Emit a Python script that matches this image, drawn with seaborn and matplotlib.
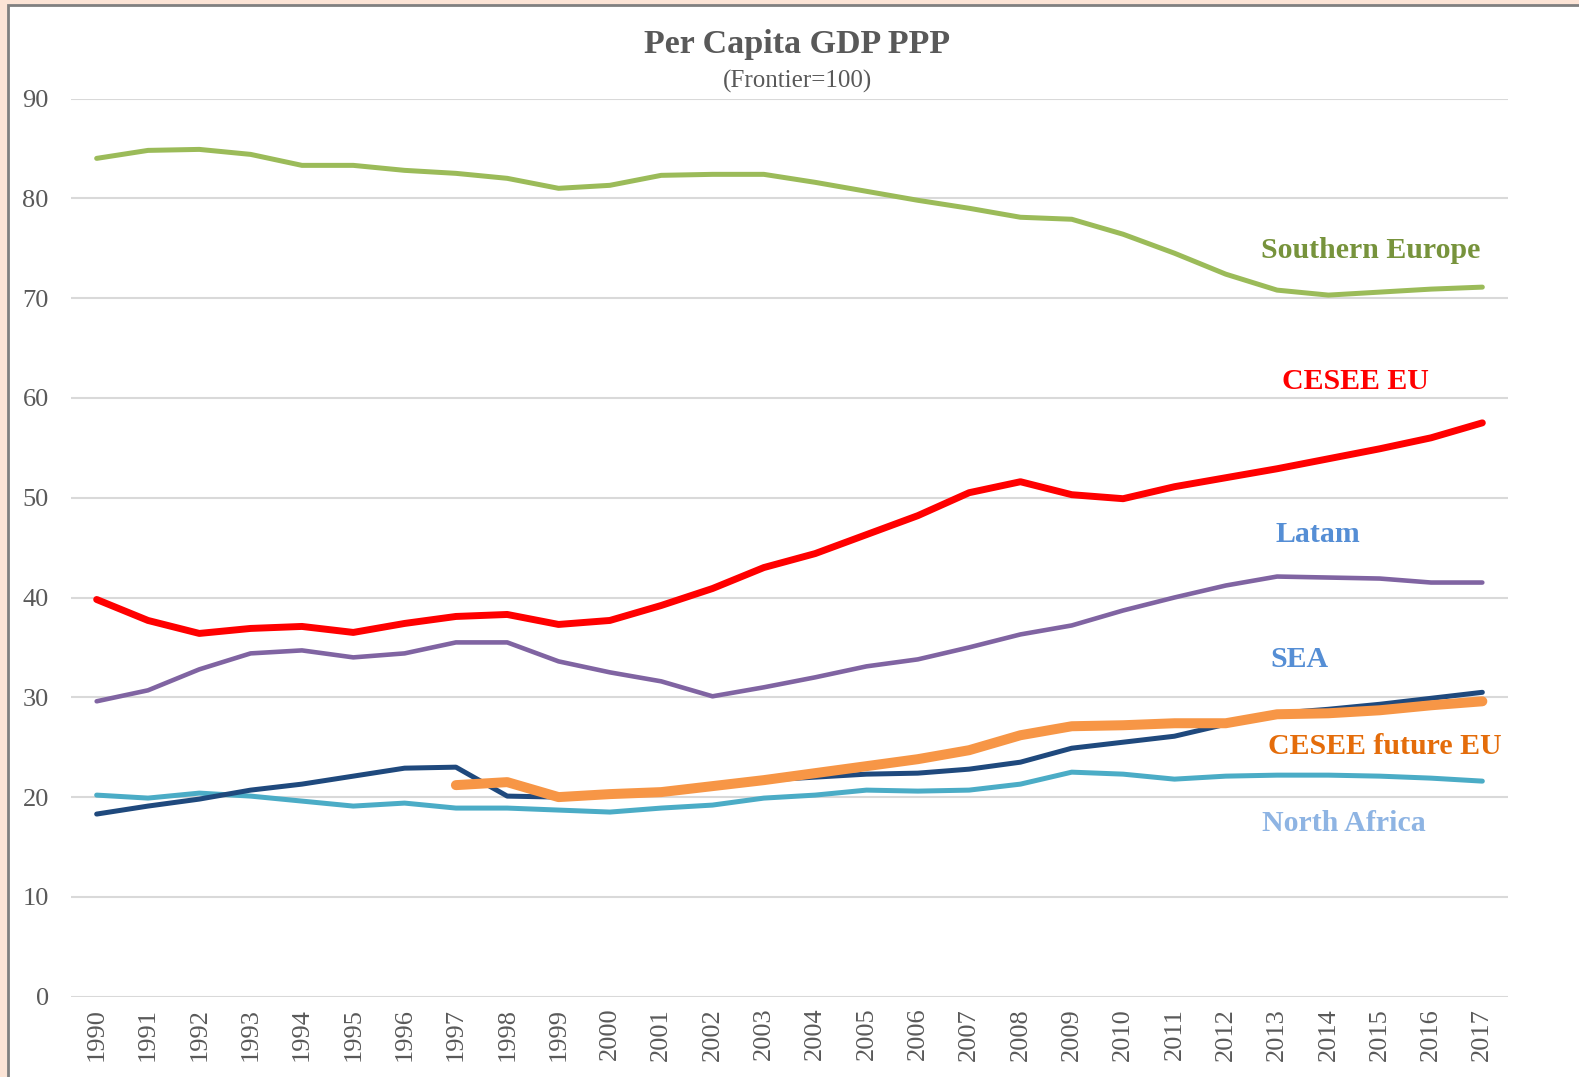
import numpy as np
import pandas as pd
import matplotlib.pyplot as plt
import seaborn as sns
from matplotlib.patches import Rectangle

# data
years = list(range(1990, 2018))
southern_europe = [84.0, 84.8, 84.9, 84.4, 83.3, 83.3, 82.8, 82.5, 82.0, 81.0, 81.3, 82.3, 82.4, 82.4,
                   81.6, 80.7, 79.8, 79.0, 78.1, 77.9, 76.4, 74.5, 72.4, 70.8, 70.3, 70.6, 70.9, 71.1]
cesee_eu = [39.8, 37.7, 36.4, 36.9, 37.1, 36.5, 37.4, 38.1, 38.3, 37.3, 37.7, 39.2, 40.9, 43.0,
            44.4, 46.3, 48.2, 50.5, 51.6, 50.3, 49.9, 51.1, 52.0, 52.9, 53.9, 54.9, 56.0, 57.5]
latam = [29.6, 30.7, 32.8, 34.4, 34.7, 34.0, 34.4, 35.5, 35.5, 33.6, 32.5, 31.6, 30.1, 31.0,
         32.0, 33.1, 33.8, 35.0, 36.3, 37.2, 38.7, 40.0, 41.2, 42.1, 42.0, 41.9, 41.5, 41.5]
sea = [18.3, 19.1, 19.8, 20.7, 21.3, 22.1, 22.9, 23.0, 20.1, 20.0, 20.2, 20.5, 21.0, 21.7,
       22.0, 22.3, 22.4, 22.8, 23.5, 24.9, 25.5, 26.1, 27.3, 28.4, 28.8, 29.3, 29.9, 30.5]
north_africa = [20.2, 19.9, 20.4, 20.1, 19.6, 19.1, 19.4, 18.9, 18.9, 18.7, 18.5, 18.9, 19.2, 19.9,
                20.2, 20.7, 20.6, 20.7, 21.3, 22.5, 22.3, 21.8, 22.1, 22.2, 22.2, 22.1, 21.9, 21.6]
cesee_future_eu = [np.nan] * 7 + [21.2, 21.5, 20.0, 20.3, 20.5, 21.1, 21.7, 22.4, 23.1, 23.8, 24.7,
                                  26.2, 27.1, 27.2, 27.4, 27.4, 28.3, 28.4, 28.7, 29.2, 29.6]

sns.set_theme(style="white")
plt.rcParams['font.family'] = ['Liberation Serif', 'DejaVu Serif']

fig = plt.figure(figsize=(15.79, 10.77), dpi=100)
fig.patch.set_facecolor("#FCE4D6")
# white chart area with grey frame (peach margin left and top only)
fig.patches.append(Rectangle((8 / 1579, -0.01), 1.05, 1.01 - 5 / 1077, transform=fig.transFigure,
                             facecolor="white", edgecolor="#808080", linewidth=2, zorder=-5))

ax = fig.add_axes([71 / 1579, 1 - 996.7 / 1077, 1437 / 1579, (996.7 - 98.5) / 1077])
ax.set_facecolor("none")

# series: (values, colour, width), drawn back to front
series = [
    ("Southern Europe", southern_europe, "#9BBB59", 3.6),
    ("North Africa", north_africa, "#4BACC6", 3.6),
    ("Latam", latam, "#8064A2", 3.3),
    ("SEA", sea, "#1F497D", 3.6),
    ("CESEE future EU", cesee_future_eu, "#F79646", 7.2),
    ("CESEE EU", cesee_eu, "#FF0000", 5.0),
]
for name, vals, col, lw in series:
    df = pd.DataFrame({"year": years, "value": vals}).dropna()
    sns.lineplot(data=df, x="year", y="value", ax=ax, color=col, linewidth=lw, zorder=3,
                 solid_capstyle="round", solid_joinstyle="round")

# labels placed next to the lines (x as fractional year)
labels = [
    ("Southern Europe", 1990 + 24.82, 74.8, "#77933C"),
    ("CESEE EU", 1990 + 24.53, 61.6, "#FF0000"),
    ("Latam", 1990 + 23.8, 46.3, "#558ED5"),
    ("SEA", 1990 + 23.43, 33.8, "#558ED5"),
    ("CESEE future EU", 1990 + 25.1, 25.1, "#E46C0A"),
    ("North Africa", 1990 + 24.3, 17.4, "#8EB4E3"),
]
for txt, x, y, col in labels:
    ax.text(x, y, txt, color=col, fontsize=21.5, fontweight="bold", ha="center", va="center")

ax.set_xlim(1989.5, 2017.5)
ax.set_ylim(0, 90)
ax.set_xticks(years)
ax.set_xticklabels([str(y) for y in years], rotation=90)
ax.set_yticks(range(0, 91, 10))
ax.tick_params(axis="both", labelsize=19, colors="#595959", length=0)
ax.tick_params(axis="y", pad=16)
ax.tick_params(axis="x", pad=8)
ax.yaxis.grid(True, color="#D9D9D9", linewidth=1.5, zorder=1)
ax.xaxis.grid(False)
for s in ax.spines.values():
    s.set_visible(False)
ax.set_xlabel("")
ax.set_ylabel("")

fig.text(797 / 1579, 1 - 45 / 1077, "Per Capita GDP PPP", ha="center", va="center",
         fontsize=24.5, fontweight="bold", color="#595959")
fig.text(797 / 1579, 1 - 81 / 1077, "(Frontier=100)", ha="center", va="center",
         fontsize=18, color="#595959")

fig.savefig("out.png", dpi=100, facecolor=fig.get_facecolor())
